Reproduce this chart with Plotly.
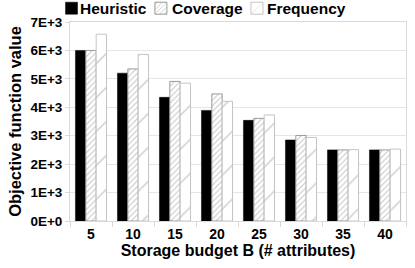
import plotly.graph_objects as go

categories = ["5", "10", "15", "20", "25", "30", "35", "40"]
heuristic = [6000, 5200, 4350, 3890, 3540, 2850, 2500, 2500]
coverage = [6000, 5350, 4910, 4470, 3610, 3010, 2500, 2500]
frequency = [6570, 5860, 4850, 4210, 3730, 2940, 2510, 2530]
series_names = ["Heuristic", "Coverage", "Frequency"]
ytick_vals = [0, 1000, 2000, 3000, 4000, 5000, 6000, 7000]
ytick_text = ["0E+0", "1E+3", "2E+3", "3E+3", "4E+3", "5E+3", "6E+3", "7E+3"]

FONT = "Liberation Sans, Arial, sans-serif"

fig = go.Figure()
fig.add_trace(go.Bar(
    name="", x=categories, y=heuristic, legend="legend",
    marker=dict(color="black", line=dict(color="black", width=0.5)),
))
fig.add_trace(go.Bar(
    name="", x=categories, y=coverage, legend="legend2",
    marker=dict(color="white", line=dict(color="#9a9a9a", width=1),
                pattern=dict(shape="/", size=4, solidity=0.25,
                             fgcolor="#8c8c8c", bgcolor="white", fillmode="overlay")),
))
fig.add_trace(go.Bar(
    name="", x=categories, y=frequency, legend="legend3",
    marker=dict(color="white", line=dict(color="#c4c4c4", width=1),
                pattern=dict(shape="/", size=24, solidity=0.06,
                             fgcolor="#9c9c9c", bgcolor="white", fillmode="overlay")),
))

LEG_Y = 1.068
leg_common = dict(orientation="h", xanchor="left", y=LEG_Y, yanchor="middle",
                  bgcolor="rgba(0,0,0,0)", itemwidth=30,
                  font=dict(family=FONT, size=15, color="black", weight="bold"))

# legend labels (real text) placed next to the legend symbols
label_x = [0.025, 0.299, 0.581]
annotations = [
    dict(text=n, x=lx, y=LEG_Y, xref="paper", yref="paper", xanchor="left", yanchor="middle",
         showarrow=False, font=dict(family=FONT, size=15.5, color="black", weight="bold"))
    for n, lx in zip(series_names, label_x)
]

fig.update_layout(
    width=415, height=268,
    margin=dict(l=70, r=9, t=22, b=47, autoexpand=False),
    paper_bgcolor="white", plot_bgcolor="white",
    barmode="group", bargap=0.26, bargroupgap=0.0,
    font=dict(family=FONT, size=13, color="black", weight="bold"),
    showlegend=True,
    legend=dict(x=-0.055, **leg_common),
    legend2=dict(x=0.211, **leg_common),
    legend3=dict(x=0.497, **leg_common),
    annotations=annotations,
    xaxis=dict(
        title=dict(text="Storage budget B (# attributes)", standoff=2,
                   font=dict(family=FONT, size=16, weight="bold")),
        showline=True, linecolor="#d9d9d9", linewidth=1, mirror=True,
        ticks="outside", tickson="boundaries", ticklen=5, tickcolor="#d9d9d9",
        showgrid=False,
        tickfont=dict(family=FONT, size=14, weight="bold"),
    ),
    yaxis=dict(
        title=dict(text="Objective function value", standoff=4,
                   font=dict(family=FONT, size=16.5, weight="bold")),
        range=[0, 7000], tickvals=ytick_vals, ticktext=ytick_text,
        showline=True, linecolor="#d9d9d9", linewidth=1, mirror=True,
        ticks="outside", ticklen=4, tickcolor="#d9d9d9",
        showgrid=True, gridcolor="#e6e6e6", gridwidth=1,
        zeroline=False,
        tickfont=dict(family=FONT, size=13.5, weight="bold"),
    ),
)

# remove the browser's default 8px body margin so the figure fills the window
fig.write_html("out.html", config={"displayModeBar": False},
               post_script="document.body.style.margin='0';")
